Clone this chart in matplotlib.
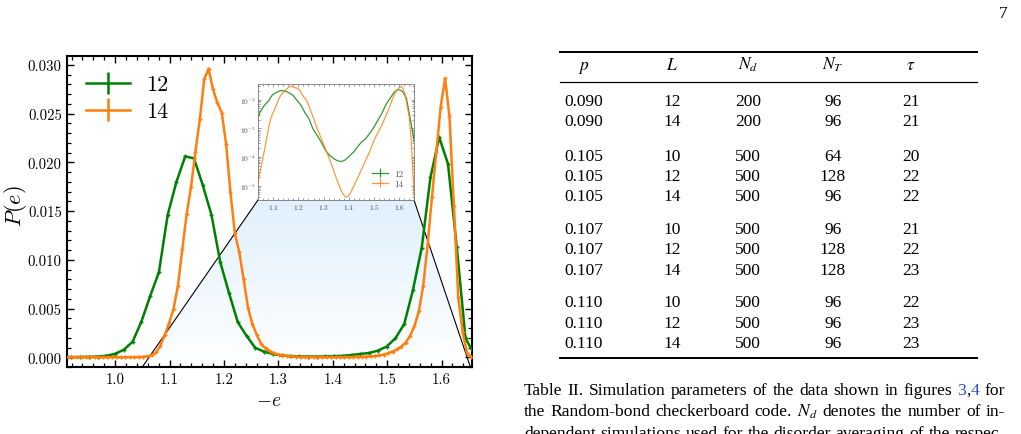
import matplotlib
matplotlib.use('Agg')
import matplotlib.pyplot as plt
import numpy as np
from matplotlib.colors import LinearSegmentedColormap
from matplotlib.lines import Line2D
from matplotlib.patches import Polygon
from matplotlib.ticker import AutoMinorLocator, FormatStrFormatter, LogLocator, NullFormatter

plt.rcParams['font.family'] = 'serif'
plt.rcParams['font.serif'] = ['cmr10']
plt.rcParams['mathtext.fontset'] = 'cm'
plt.rcParams['axes.unicode_minus'] = False
plt.rcParams['axes.formatter.use_mathtext'] = True

# energy histograms, L = 12 and L = 14
e12 = [0.9034, 0.9195, 0.9356, 0.9517, 0.9678, 0.9839, 1.0, 1.0161, 1.0322, 1.0483,
       1.0644, 1.0805, 1.0966, 1.1127, 1.1288, 1.1449, 1.161, 1.1771, 1.1932, 1.2093,
       1.2254, 1.2415, 1.2576, 1.2737, 1.2898, 1.3059, 1.322, 1.3381, 1.3542, 1.3703,
       1.3864, 1.4025, 1.4186, 1.4347, 1.4508, 1.4669, 1.483, 1.4991, 1.5152, 1.5313,
       1.5474, 1.5635, 1.5796, 1.5957, 1.6118, 1.6279, 1.644, 1.6601]
p12 = [1e-5, 1.5e-5, 2.5e-5, 4e-5, 7e-5, 1.5e-4, 3.5e-4, 7.8e-4, 1.6e-3, 3.66e-3,
       6.27e-3, 8.73e-3, 0.0146, 0.018, 0.0206, 0.0204, 0.01767, 0.0146, 0.00976, 0.0066,
       0.0036, 0.0022, 0.00096, 0.00058, 0.00034, 0.00018, 1.2e-4, 9e-5, 7.5e-5, 7e-5,
       8e-5, 1.1e-4, 1.5e-4, 2.3e-4, 3.4e-4, 4.4e-4, 6.8e-4, 1.1e-3, 1.95e-3, 3.4e-3,
       6.9e-3, 0.01123, 0.01846, 0.02256, 0.01983, 0.0113, 0.00195, 3e-4]

e14 = [0.9061, 0.9142, 0.9222, 0.9303, 0.9383, 0.9464, 0.9544, 0.9625, 0.9705, 0.9786,
       0.9866, 0.9947, 1.0027, 1.0108, 1.0188, 1.0269, 1.0349, 1.0430, 1.0510, 1.0591,
       1.0671, 1.0752, 1.0832, 1.0913, 1.0993, 1.1074, 1.1154, 1.1235, 1.1315, 1.1396,
       1.1476, 1.1557, 1.1637, 1.1718, 1.1798, 1.1879, 1.1959, 1.2040, 1.2120, 1.2201,
       1.2281, 1.2362, 1.2442, 1.2523, 1.2603, 1.2684, 1.2764, 1.2845, 1.2925, 1.3006,
       1.3086, 1.3167, 1.3247, 1.3328, 1.3408, 1.3489, 1.3569, 1.3650, 1.3730, 1.3811,
       1.3891, 1.3972, 1.4052, 1.4133, 1.4213, 1.4294, 1.4374, 1.4455, 1.4535, 1.4616,
       1.4696, 1.4777, 1.4857, 1.4938, 1.5018, 1.5099, 1.5179, 1.5260, 1.5340, 1.5421,
       1.5501, 1.5582, 1.5662, 1.5743, 1.5823, 1.5904, 1.5984, 1.6065, 1.6145, 1.6226,
       1.6306, 1.6387, 1.6467, 1.6548, 1.6628]
p14 = [2e-7, 2e-7, 3e-7, 3e-7, 4e-7, 4e-7, 5e-7, 6e-7, 7e-7, 8e-7,
       1e-6, 1.2e-6, 1.5e-6, 2e-6, 2.8e-6, 4e-6, 8e-6, 1.8e-5, 4e-5, 9e-5,
       2e-4, 5e-4, 0.0012, 0.0023, 0.0035, 0.005, 0.0073, 0.0111, 0.0147, 0.0175,
       0.0211, 0.0244, 0.0285, 0.0296, 0.0275, 0.0261, 0.0251, 0.0219, 0.0169, 0.0127,
       0.0108, 0.008, 0.0051, 0.0034, 0.0023, 0.00137, 9e-4, 6e-4, 4e-4, 2.7e-4,
       1.8e-4, 1.2e-4, 8e-5, 5e-5, 3.2e-5, 2e-5, 1.3e-5, 8.5e-6, 6e-6, 4.6e-6,
       4e-6, 4.3e-6, 5.5e-6, 7.5e-6, 1.05e-5, 1.5e-5, 2.1e-5, 3e-5, 4.3e-5, 6.2e-5,
       8.8e-5, 1.25e-4, 1.8e-4, 2.8e-4, 4.2e-4, 5.8e-4, 8e-4, 1.1e-3, 1.5e-3, 2.2e-3,
       3.2e-3, 4.7e-3, 7.3e-3, 0.0115, 0.0164, 0.0211, 0.0257, 0.0286, 0.0247, 0.0155,
       0.0062, 0.0026, 0.00045, 2e-5, 1e-6]

# Table II
tab_head = [r'$p$', r'$L$', r'$N_d$', r'$N_T$', r'$\tau$']
tab_p = ['0.090', '0.090', '0.105', '0.105', '0.105', '0.107', '0.107', '0.107',
         '0.110', '0.110', '0.110']
tab_L = ['12', '14', '10', '12', '14', '10', '12', '14', '10', '12', '14']
tab_Nd = ['200', '200', '500', '500', '500', '500', '500', '500', '500', '500', '500']
tab_NT = ['96', '96', '64', '128', '96', '96', '128', '128', '96', '96', '96']
tab_tau = ['21', '21', '20', '22', '22', '21', '22', '23', '22', '23', '23']

caption = [
    [[('Table', 'k')], [('II.', 'k')], [('Simulation', 'k')], [('parameters', 'k')],
     [('of', 'k')], [('the', 'k')], [('data', 'k')], [('shown', 'k')], [('in', 'k')],
     [('figures', 'k')], [('3', '#2a4fd6'), (',', 'k'), ('4', '#2a4fd6')], [('for', 'k')]],
    [[(w, 'k')] for w in 'the Random-bond checkerboard code. $N_d$ denotes the number of in-'.split()],
    [[(w, 'k')] for w in 'dependent simulations used for the disorder averaging of the respec-'.split()],
]

W, H = 1021, 435
fig = plt.figure(figsize=(W / 100, H / 100), dpi=100)


def fx(px):
    return px / W


def fy(py):
    return 1 - py / H


green = 'green'
orange = '#ff7f0e'

ax = fig.add_axes([fx(66.7), fy(368), (471.5 - 66.7) / W, (368 - 57) / H])
ax.errorbar(e12, p12, yerr=0, color=green, lw=1.8, elinewidth=1.8, marker='+',
            ms=3.5, mew=1, label='12', zorder=3)
ax.errorbar(e14, p14, yerr=0, color=orange, lw=1.8, elinewidth=1.8, marker='+',
            ms=3.5, mew=1, label='14', zorder=3)
xlo, xhi, ylo, yhi = 0.911, 1.655, -0.001, 0.0309
ax.set_xlim(xlo, xhi)
ax.set_ylim(ylo, yhi)
ax.xaxis.set_major_formatter(FormatStrFormatter('%.1f'))
ax.yaxis.set_major_formatter(FormatStrFormatter('%.3f'))
ax.xaxis.set_minor_locator(AutoMinorLocator())
ax.yaxis.set_minor_locator(AutoMinorLocator())
ax.tick_params(which='both', direction='in', top=True, right=True, labelsize=10.7)
ax.tick_params(which='major', length=5, width=1)
ax.tick_params(which='minor', length=2.6, width=0.9)
for s in ax.spines.values():
    s.set_linewidth(1.5)
ax.set_xlabel(r'$-e$', fontsize=14, labelpad=4)
ax.set_ylabel(r'$P(e)$', fontsize=16)
ax.yaxis.set_label_coords(-0.093, 0.52)
ax.legend(loc='upper left', frameon=False, fontsize=16, handlelength=2.0,
          labelspacing=0.33, borderaxespad=0.45, handletextpad=0.7)

# inset, log scale
axins = fig.add_axes([fx(258), fy(201), (414 - 258) / W, (201 - 85) / H])
axins.errorbar(e12, p12, yerr=0, color=green, lw=0.9, elinewidth=0.9, alpha=0.8,
               label='12')
axins.errorbar(e14, p14, yerr=0, color=orange, lw=0.9, elinewidth=0.9, alpha=0.8,
               label='14')
axins.set_yscale('log')
axins.set_xlim(1.04, 1.658)
axins.set_ylim(3.2e-6, 0.0352)
axins.yaxis.set_major_locator(LogLocator(base=10, numticks=10))
axins.yaxis.set_minor_locator(LogLocator(base=10, subs=np.arange(2, 10), numticks=10))
axins.yaxis.set_minor_formatter(NullFormatter())
axins.xaxis.set_minor_locator(AutoMinorLocator())
axins.tick_params(which='both', direction='in', top=True, right=True, labelsize=5.3,
                  colors='#777777', labelcolor='#555555', width=0.5, pad=1.5)
axins.tick_params(which='major', length=2.5)
axins.tick_params(which='minor', length=1.3)
for s in axins.spines.values():
    s.set_linewidth(0.6)
    s.set_edgecolor('#777777')
leg = axins.legend(loc='lower right', frameon=False, fontsize=6.5, handlelength=1.8,
                   labelspacing=0.2, borderaxespad=0.3, handletextpad=0.6,
                   bbox_to_anchor=(0.97, 0.05))
for t in leg.get_texts():
    t.set_color('#555555')

# shaded cone from the inset down to the zoomed range
inv = ax.transData.inverted()
bl = inv.transform(axins.transAxes.transform((0, 0)))
br = inv.transform(axins.transAxes.transform((1, 0)))
z0, z1 = 1.05, 1.653
verts = [bl, br, (z1, ylo), (z0, ylo)]
cmap = LinearSegmentedColormap.from_list('cone', ['#ffffff', '#e0f0fc'])
grad = np.linspace(0, 1, 256).reshape(-1, 1)
im = ax.imshow(grad, extent=[bl[0] - 0.2, br[0] + 0.2, ylo, bl[1]], origin='lower',
               aspect='auto', cmap=cmap, zorder=0.5, interpolation='bilinear')
im.set_clip_path(Polygon(verts, closed=True, transform=ax.transData))
ax.plot([bl[0], z0], [bl[1], ylo], color='k', lw=0.8, zorder=2, clip_on=False)
ax.plot([br[0], z1], [br[1], ylo], color='k', lw=0.8, zorder=2, clip_on=False)
ax.set_xlim(xlo, xhi)
ax.set_ylim(ylo, yhi)

# table
tfont = dict(family='Liberation Serif', math_fontfamily='stix', fontsize=12.5)
for y, lw in [(52.7, 1.4), (83.3, 0.9), (359.3, 1.4)]:
    fig.add_artist(Line2D([fx(560), fx(977)], [fy(y), fy(y)], color='k', lw=lw))
col_x = [584, 672, 748, 833, 911]
for cx, h in zip(col_x, tab_head):
    fig.text(fx(cx), fy(70), h, ha='center', va='baseline', **tfont)
row_y = [100, 120.5, 155, 175.7, 195.7, 228.3, 248.5, 269, 301.7, 322.3, 342.7]
for i, ry in enumerate(row_y):
    vals = [tab_p[i], tab_L[i], tab_Nd[i], tab_NT[i], tab_tau[i]]
    for cx, v in zip(col_x, vals):
        fig.text(fx(cx), fy(ry + 5.6), v, ha='center', va='baseline', **tfont)

fig.text(fx(1003), fy(18), '7', ha='center', va='baseline', **tfont)

# caption, justified between x0 and x1
r = fig.canvas.get_renderer()
cfont = dict(family='Liberation Serif', math_fontfamily='stix', fontsize=12.6)


def word_width(pieces):
    w = 0
    for s, c in pieces:
        t = fig.text(0, 0, s, **cfont)
        w += t.get_window_extent(r).width
        t.remove()
    return w


x0, x1 = 524, 1005
for line, base in zip(caption, [395, 416.5, 438]):
    widths = [word_width(wd) for wd in line]
    gap = (x1 - x0 - sum(widths)) / (len(line) - 1)
    x = x0
    for wd, ww in zip(line, widths):
        xx = x
        for s, c in wd:
            t = fig.text(fx(xx), fy(base), s, color=c, ha='left', va='baseline', **cfont)
            xx += t.get_window_extent(r).width
        x += ww + gap

fig.savefig('out.png', dpi=100)
